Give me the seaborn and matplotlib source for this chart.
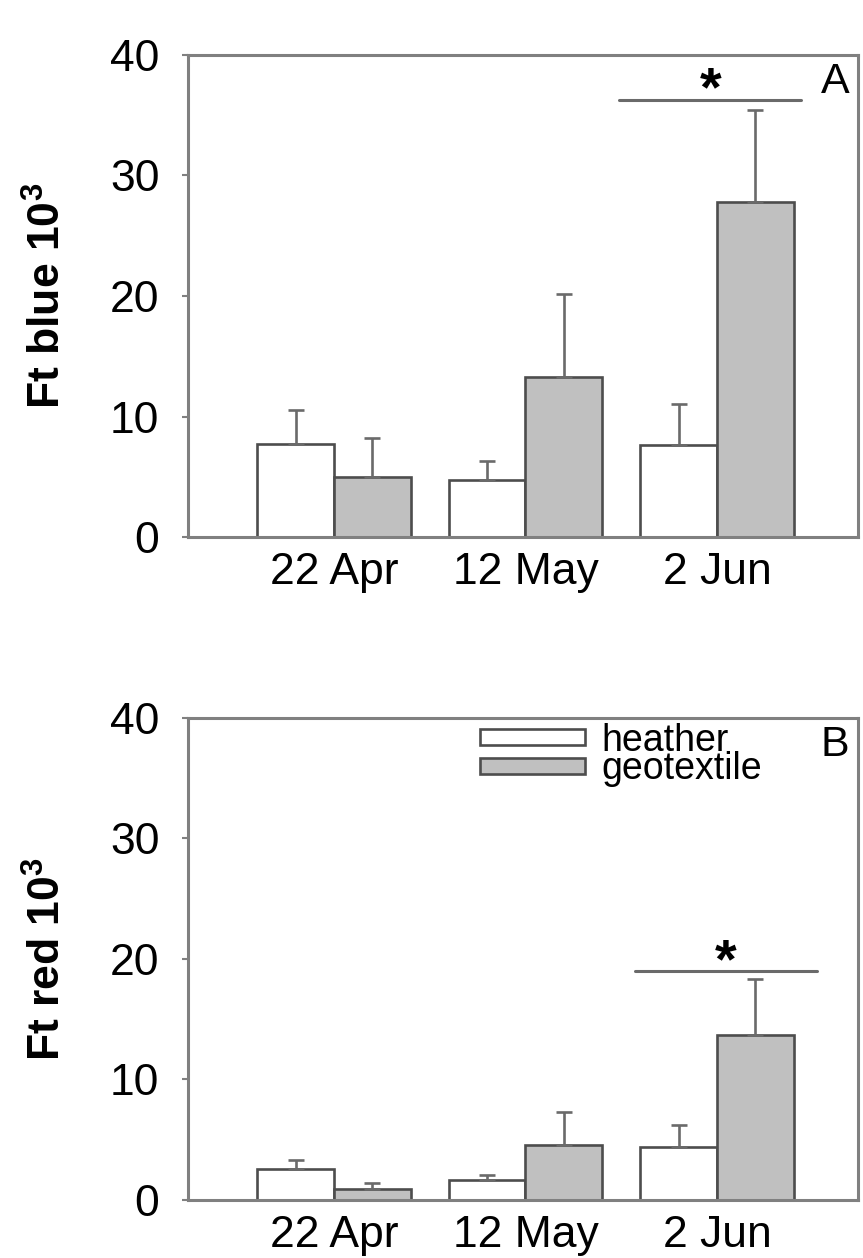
import numpy as np
import pandas as pd
import matplotlib
matplotlib.use('Agg')
import matplotlib.pyplot as plt
import seaborn as sns
from matplotlib.patches import Patch

# Data (values in 10^3)
dates = ['22 Apr', '12 May', '2 Jun']
covers = ['heather', 'geotextile']

blue_heather = [7.7, 4.7, 7.6]
blue_heather_se = [2.8, 1.6, 3.4]
blue_geotextile = [5.0, 13.3, 27.8]
blue_geotextile_se = [3.2, 6.9, 7.6]

red_heather = [2.6, 1.7, 4.4]
red_heather_se = [0.7, 0.35, 1.8]
red_geotextile = [0.9, 4.6, 13.7]
red_geotextile_se = [0.5, 2.7, 4.6]

# significance bar: (x from, x to, y, star baseline y)
sig_blue = (1.49, 2.44, 36.3, 35.8)
sig_red = (1.57, 2.52, 19.0, 18.5)

FILL = {'heather': 'white', 'geotextile': '#c0c0c0'}
EDGE = '#4d4d4d'
AXIS = '#808080'


def make_frame(heather, geotextile, heather_se, geotextile_se):
    rows = []
    for cover, vals, errs in [('heather', heather, heather_se),
                              ('geotextile', geotextile, geotextile_se)]:
        for d, v, e in zip(dates, vals, errs):
            rows.append({'date': d, 'cover': cover, 'value': v, 'se': e})
    return pd.DataFrame(rows)


def draw_panel(ax, df, ylabel, letter, sig, legend=False):
    sns.barplot(data=df, x='date', y='value', hue='cover', order=dates,
                hue_order=covers, palette=FILL, edgecolor=EDGE, linewidth=1.9,
                width=0.8, errorbar=None, legend=False, ax=ax)

    # Upper error bars only, placed on the bars seaborn drew
    for container, cover in zip(ax.containers, covers):
        sub = df[df['cover'] == cover].set_index('date').loc[dates]
        for bar, (_, r) in zip(container, sub.iterrows()):
            xc = bar.get_x() + bar.get_width() / 2
            ax.errorbar(xc, r['value'], yerr=[[0], [r['se']]], fmt='none',
                        ecolor='#6a6a6a', elinewidth=1.9, capsize=5.5,
                        capthick=1.9, zorder=1)

    ax.set_xlim(-0.762, 2.736)
    ax.set_ylim(0, 40)
    ax.set_yticks([0, 10, 20, 30, 40])
    ax.set_xlabel('')
    ax.set_ylabel(ylabel, fontsize=32, fontweight='bold', color='black')
    ax.yaxis.set_label_coords(-0.176, 0.5)
    ax.tick_params(axis='y', labelsize=32, length=4.5, width=1.5,
                   color=AXIS, labelcolor='black', pad=16, direction='out')
    ax.tick_params(axis='x', labelsize=32, length=0, pad=11,
                   labelcolor='black')
    for s in ax.spines.values():
        s.set_visible(True)
        s.set_color(AXIS)
        s.set_linewidth(2.2)

    x0, x1, y, ys = sig
    ax.plot([x0, x1], [y, y], color='#6a6a6a', lw=2.2)
    ax.text((x0 + x1) / 2, ys, '*', ha='center', va='baseline', fontsize=40,
            fontweight='bold', color='black')
    ax.text(0.966, 0.944, letter, transform=ax.transAxes, ha='center',
            va='center', fontsize=31, color='black')

    if legend:
        handles = [Patch(facecolor=FILL[c], edgecolor=EDGE, linewidth=1.9,
                         label=c) for c in covers]
        ax.legend(handles=handles, loc='upper left',
                  bbox_to_anchor=(0.436, 0.99), frameon=False, fontsize=27,
                  handlelength=2.8, handleheight=0.28, handletextpad=0.44,
                  labelspacing=-0.2, borderpad=0, borderaxespad=0,
                  labelcolor='black')


def main():
    sns.set_style('ticks')
    plt.rcParams['font.family'] = ['Liberation Sans', 'DejaVu Sans']
    plt.rcParams['mathtext.fontset'] = 'custom'
    plt.rcParams['mathtext.rm'] = 'Liberation Sans'
    plt.rcParams['mathtext.bf'] = 'Liberation Sans:bold'

    fig = plt.figure(figsize=(8.63, 12.58), dpi=100)
    ax_a = fig.add_axes([0.2178, 0.5731, 0.7764, 0.3832])
    ax_b = fig.add_axes([0.2178, 0.0461, 0.7764, 0.3832])

    df_blue = make_frame(blue_heather, blue_geotextile,
                         blue_heather_se, blue_geotextile_se)
    df_red = make_frame(red_heather, red_geotextile,
                        red_heather_se, red_geotextile_se)

    draw_panel(ax_a, df_blue, r'Ft blue 10$^{\mathbf{3}}$', 'A', sig_blue)
    draw_panel(ax_b, df_red, r'Ft red 10$^{\mathbf{3}}$', 'B', sig_red,
               legend=True)

    fig.savefig('out.png', dpi=100)
    plt.close(fig)


if __name__ == '__main__':
    main()
